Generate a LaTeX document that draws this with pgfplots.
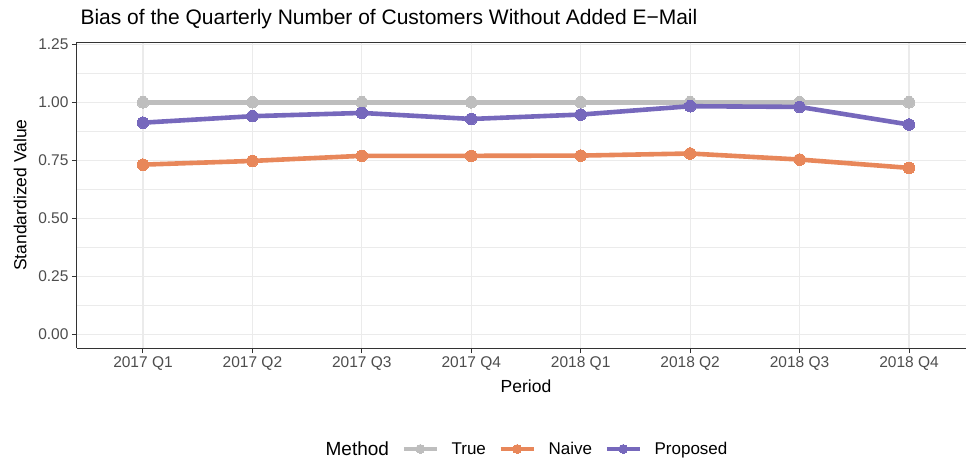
\documentclass[border=0pt]{standalone}
\usepackage{pgfplots}
\pgfplotsset{compat=1.18}
\usepackage{fontspec}
\setmainfont{Liberation Sans}
\definecolor{cTrue}{HTML}{BEBEBE}
\definecolor{cNaive}{HTML}{E8875A}
\definecolor{cProp}{HTML}{7668BC}
\definecolor{gridc}{HTML}{EBEBEB}
\definecolor{tickc}{HTML}{4D4D4D}
\definecolor{axc}{HTML}{333333}
\begin{document}
\begin{tikzpicture}
\begin{axis}[
  at={(0pt,0pt)}, anchor=south west,
  scale only axis, width=889pt, height=306pt,
  xmin=0.397, xmax=8.521, ymin=-0.06, ymax=1.26,
  xtick={1,2,3,4,5,6,7,8},
  xticklabels={2017 Q1,2017 Q2,2017 Q3,2017 Q4,2018 Q1,2018 Q2,2018 Q3,2018 Q4},
  ytick={0,0.25,0.5,0.75,1,1.25},
  minor ytick={0.125,0.375,0.625,0.875,1.125},
  yticklabel style={/pgf/number format/fixed, /pgf/number format/fixed zerofill, /pgf/number format/precision=2},
  /pgf/number format/assume math mode=true,
  axis x line=box, axis y line=left,
  axis line style={-, axc, line width=1pt},
  xtick pos=lower, ytick pos=left,
  tick align=outside,
  major tick length=5pt,
  every tick/.style={axc, line width=1pt},
  minor tick length=0pt,
  grid=both,
  major grid style={gridc, line width=1.1pt},
  minor grid style={gridc, line width=0.6pt},
  ticklabel style={font=\fontsize{15.5}{18}\selectfont, text=tickc},
  xlabel={Period}, ylabel={Standardized Value},
  every axis x label/.style={at={(axis description cs:0.5,0)}, anchor=base, yshift=-44pt, xshift=4.5pt, font=\fontsize{17.5}{20}\selectfont},
  every axis y label/.style={at={(axis description cs:0,0.5)}, xshift=-57pt, rotate=90, anchor=center, font=\fontsize{17.5}{20}\selectfont},
  title={Bias of the Quarterly Number of Customers Without Added E\textminus Mail},
  every axis title/.style={at={(axis description cs:0,1)}, anchor=base west, yshift=18pt, xshift=0pt, font=\fontsize{21}{24}\selectfont},
  legend columns=4,
  legend style={draw=none, fill=none, at={(axis description cs:0.5,0)}, anchor=center, yshift=-101pt, xshift=-0.5pt,
    font=\fontsize{17}{19}\selectfont,
    /tikz/every even column/.append style={column sep=11pt},
    /tikz/every odd column/.append style={column sep=11pt}},
  legend cell align=left,
  legend image code/.code={\draw[mark repeat=2, mark phase=2, #1, line width=3.6pt, mark size=4.5pt] plot coordinates {(0pt,0pt) (16.5pt,0pt) (33pt,0pt)};},
  clip=false,
]
\addlegendimage{empty legend}
\addlegendentry{\fontsize{19}{20}\selectfont Method}
\addplot[cTrue, line width=4.6pt, mark=*, mark size=5.8pt, mark options={line width=0pt, fill=cTrue}] coordinates {
(1,1) (2,1) (3,1) (4,1) (5,1) (6,1) (7,1) (8,1)};
\addlegendentry{True}
\addplot[cNaive, line width=4.6pt, mark=*, mark size=5.8pt, mark options={line width=0pt, fill=cNaive}] coordinates {
(1,0.731) (2,0.747) (3,0.769) (4,0.769) (5,0.770) (6,0.779) (7,0.753) (8,0.717)};
\addlegendentry{Naive}
\addplot[cProp, line width=4.6pt, mark=*, mark size=5.8pt, mark options={line width=0pt, fill=cProp}] coordinates {
(1,0.912) (2,0.940) (3,0.954) (4,0.928) (5,0.947) (6,0.983) (7,0.980) (8,0.904)};
\addlegendentry{Proposed}
\end{axis}
\pgfresetboundingbox
\useasboundingbox (-77pt,-111pt) rectangle (889pt,348pt);
\end{tikzpicture}
\end{document}
